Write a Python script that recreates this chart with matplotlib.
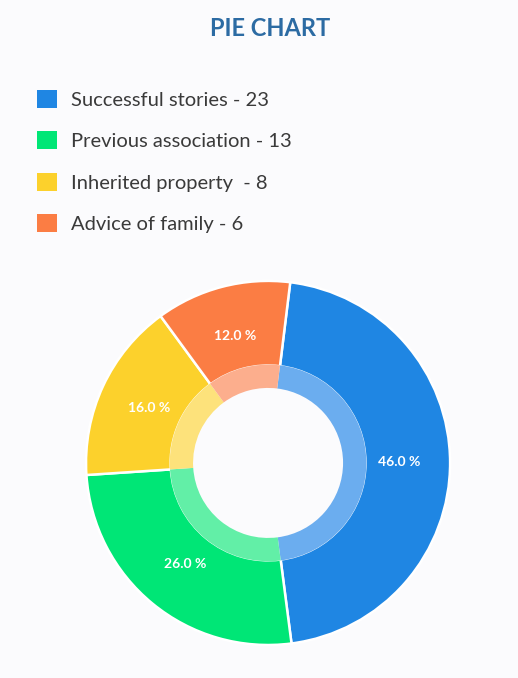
import matplotlib
matplotlib.use("Agg")
import matplotlib.pyplot as plt

categories = ["Successful stories", "Previous association", "Inherited property ", "Advice of family"]
counts = [23, 13, 8, 6]
colors = ["#1f86e3", "#00e676", "#fcd12c", "#fb7d44"]
inner_colors = ["#6badef", "#62efa7", "#fde27b", "#fcae8d"]

bg = "#fbfbfd"
plt.rcParams['font.family'] = ['Lato', 'DejaVu Sans']

fig = plt.figure(figsize=(5.18, 6.78), dpi=100, facecolor=bg)

fig.text(0.521, 0.958, "PIE CHART", ha="center", va="center",
         fontsize=17, fontweight="bold", color="#2c6ba3")

ax = fig.add_axes([0.166, 0.0487, 0.703, 0.537])
ax.set_facecolor(bg)

start = 83

# outer ring, full colour, with percentage labels
wedges, texts, autotexts = ax.pie(
    counts, colors=colors, startangle=start, counterclock=False,
    radius=1.0, wedgeprops=dict(width=0.465, edgecolor="white", linewidth=1.8),
    autopct=lambda p: "{:.1f} %".format(p), pctdistance=0.72,
    textprops=dict(color="white", fontsize=10, fontweight="bold"))

# inner ring, lighter shade of the same slices
ax.pie(counts, colors=inner_colors, startangle=start, counterclock=False,
       radius=0.54, wedgeprops=dict(width=0.128, edgecolor="none"))
ax.set_xlim(-1.0, 1.0)
ax.set_ylim(-1.0, 1.0)
ax.set_aspect("equal")

labels = ["{} - {}".format(c, n) for c, n in zip(categories, counts)]
leg = fig.legend(wedges, labels, loc="upper left",
                 bbox_to_anchor=(37 / 518, 1 - 90 / 678),
                 frameon=False, fontsize=14.5, handlelength=1.0, handleheight=1.0,
                 handletextpad=0.68, labelspacing=1.12, borderaxespad=0, borderpad=0)
for t in leg.get_texts():
    t.set_color("#3a3a3a")
for h in leg.legend_handles:
    h.set_edgecolor("none")

fig.savefig("out.png", dpi=100, facecolor=bg)
